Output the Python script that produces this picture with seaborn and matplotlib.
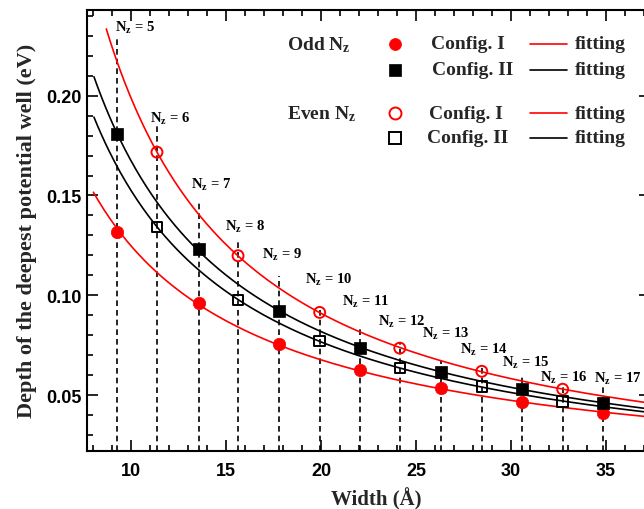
import numpy as np
import pandas as pd
import matplotlib
matplotlib.use("Agg")
import matplotlib.pyplot as plt
import seaborn as sns

# ---------------- data ----------------
nz = [5, 6, 7, 8, 9, 10, 11, 12, 13, 14, 15, 16, 17]
width = [9.24, 11.35, 13.55, 15.62, 17.78, 19.92, 22.06, 24.14, 26.32,
         28.46, 30.60, 32.72, 34.84]
depth_config1 = [0.1318, 0.1717, 0.0963, 0.1198, 0.0754, 0.0914, 0.0624,
                 0.0735, 0.0534, 0.0619, 0.0463, 0.0529, 0.0410]
depth_config2 = [0.1808, 0.1342, 0.1230, 0.0977, 0.0921, 0.0771, 0.0735,
                 0.0635, 0.0617, 0.0542, 0.0530, 0.0468, 0.0460]
# top of the dashed guide line for each N_z
guide_top = [0.2292, 0.1849, 0.1462, 0.1267, 0.1096, 0.0941, 0.0847,
             0.0764, 0.0672, 0.0640, 0.0605, 0.0545, 0.0545]
# N_z label positions (left x, centre y)
label_x = [9.12, 11.00, 13.16, 14.92, 16.88, 19.14, 21.10, 23.00, 25.29,
           27.31, 29.50, 31.52, 34.37]
label_y = [0.2344, 0.1891, 0.1557, 0.1348, 0.1206, 0.1081, 0.0969, 0.0872,
           0.0809, 0.0730, 0.0664, 0.0589, 0.0585]
# start of each fitted curve and polynomial degree of the log-log fit
fit_start = {"odd_I": 8.00, "odd_II": 8.03, "even_I": 8.68, "even_II": 8.03}
fit_degree = {"odd_I": 1, "odd_II": 1, "even_I": 2, "even_II": 1}

xlim = (7.68, 37.32)
ylim = (0.0221, 0.2431)
xticks = [10, 15, 20, 25, 30, 35]
yticks = [0.05, 0.10, 0.15, 0.20]
ytick_labels = ["0.05", "0.10", "0.15", "0.20"]

RED = "#ff0000"
BLACK = "#000000"

df = pd.DataFrame({"nz": nz, "width": width,
                   "c1": depth_config1, "c2": depth_config2})
df["parity"] = np.where(df["nz"] % 2 == 1, "odd", "even")

# ---------------- style ----------------
sns.set_theme(style="ticks")
plt.rcParams["font.family"] = ["Liberation Serif", "DejaVu Serif"]
plt.rcParams["mathtext.fontset"] = "custom"
plt.rcParams["mathtext.rm"] = "Liberation Serif"
plt.rcParams["mathtext.bf"] = "Liberation Serif:bold"
plt.rcParams["mathtext.it"] = "Liberation Serif:italic"

fig = plt.figure(figsize=(6.44, 5.10), dpi=100)
L, R, B, T = 87.3, 650.0, 451.7, 10.7
W, H = 644.0, 510.0
ax = fig.add_axes([L / W, (H - B) / H, (R - L) / W, (B - T) / H])

# ---------------- dashed guides ----------------
ax.vlines(df["width"], ylim[0], guide_top, colors=BLACK, linewidth=1.2,
          linestyles=(0, (3.4, 2.4)), zorder=1)


# ---------------- fitted curves (fits to the points in log-log space) ----------------
def loglog_fit(x, y, x0, deg):
    coef = np.polyfit(np.log(x), np.log(y), deg)
    xs = np.linspace(x0, xlim[1] + 0.3, 300)
    return xs, np.exp(np.polyval(coef, np.log(xs)))


groups = [("odd", "c1", RED, "odd_I"), ("odd", "c2", BLACK, "odd_II"),
          ("even", "c1", RED, "even_I"), ("even", "c2", BLACK, "even_II")]
for par, col, color, key in groups:
    sub = df[df["parity"] == par]
    xs, ys = loglog_fit(sub["width"].values, sub[col].values,
                        fit_start[key], fit_degree[key])
    sns.lineplot(x=xs, y=ys, color=color, linewidth=1.2, ax=ax,
                 estimator=None, sort=False, zorder=2)

# ---------------- markers ----------------
odd = df[df["parity"] == "odd"]
even = df[df["parity"] == "even"]
sns.scatterplot(data=odd, x="width", y="c1", marker="o", s=80, color=RED,
                edgecolor=RED, linewidth=0.5, ax=ax, zorder=4)
sns.scatterplot(data=odd, x="width", y="c2", marker="s", s=72, color=BLACK,
                edgecolor=BLACK, linewidth=0.5, ax=ax, zorder=4)
sns.scatterplot(data=even, x="width", y="c1", marker="o", s=62,
                facecolors="none", edgecolor=RED, linewidth=1.4, ax=ax, zorder=4)
sns.scatterplot(data=even, x="width", y="c2", marker="s", s=56,
                facecolors="none", edgecolor=BLACK, linewidth=1.4, ax=ax, zorder=4)

# ---------------- N_z labels ----------------
for n, lx, ly in zip(nz, label_x, label_y):
    ax.text(lx, ly, r"$\mathbf{N_z}$ = %d" % n, ha="left", va="center",
            fontsize=10.5, fontweight="bold", color=BLACK, zorder=5)

# ---------------- hand-made legend ----------------
def fx(px):
    return (px - L) / (R - L)


def fy(py):
    return (B - py) / (B - T)


rows = [
    (45.0, "Odd $\\mathbf{N_z}$", "o", True, RED, "Config. I", 430.7),
    (70.7, None, "s", True, BLACK, "Config. II", 431.7),
    (114.3, "Even $\\mathbf{N_z}$", "o", False, RED, "Config. I", 429.3),
    (139.0, None, "s", False, BLACK, "Config. II", 426.7),
]
for py, group, mk, filled, color, cfg, cx in rows:
    yy = fy(py)
    if group:
        ax.text(fx(286.7), yy, group, transform=ax.transAxes, ha="left",
                va="center", fontsize=14, fontweight="bold")
    ax.plot([fx(394.5)], [yy], transform=ax.transAxes, marker=mk,
            markersize=8.6 if mk == "o" else 8.3,
            markerfacecolor=color if filled else "none",
            markeredgecolor=color, markeredgewidth=1.4 if not filled else 0.5,
            linestyle="none", clip_on=False, zorder=6)
    ax.text(fx(cx), yy, cfg, transform=ax.transAxes, ha="left", va="center",
            fontsize=14, fontweight="bold")
    ax.plot([fx(530), fx(566.7)], [yy, yy], transform=ax.transAxes,
            color=color, linewidth=1.2, clip_on=False, zorder=6)
    ax.text(fx(575), yy, "fitting", transform=ax.transAxes, ha="left",
            va="center", fontsize=14, fontweight="bold")

# ---------------- axes ----------------
ax.set_xlim(*xlim)
ax.set_ylim(*ylim)
ax.set_xticks(xticks)
ax.set_xticks(np.arange(8, 38, 1), minor=True)
ax.set_yticks(yticks)
ax.set_yticklabels(ytick_labels)
ax.set_yticks(np.arange(0.03, 0.245, 0.01), minor=True)
for s in ax.spines.values():
    s.set_linewidth(1.5)
    s.set_visible(True)
    s.set_color(BLACK)
ax.tick_params(which="both", direction="in", top=True, right=True,
               color=BLACK, width=1.2)
ax.tick_params(which="major", length=8)
ax.tick_params(which="minor", length=4)
ax.tick_params(axis="x", which="major", pad=8)
ax.tick_params(axis="y", which="major", pad=4)
for lab in ax.get_xticklabels() + ax.get_yticklabels():
    lab.set_fontfamily(["Liberation Sans", "DejaVu Sans"])
    lab.set_fontweight("bold")
    lab.set_fontsize(13)
    lab.set_color(BLACK)

ax.set_xlabel("Width (Å)", fontsize=15, fontweight="bold", va="top")
ax.xaxis.set_label_coords(fx(376.7), fy(488.0))
ax.set_ylabel("Depth of the deepest potential well (eV)", fontsize=16,
              fontweight="bold")
ax.yaxis.set_label_coords(fx(37.0), 0.5)

fig.savefig("out.png", dpi=100)
